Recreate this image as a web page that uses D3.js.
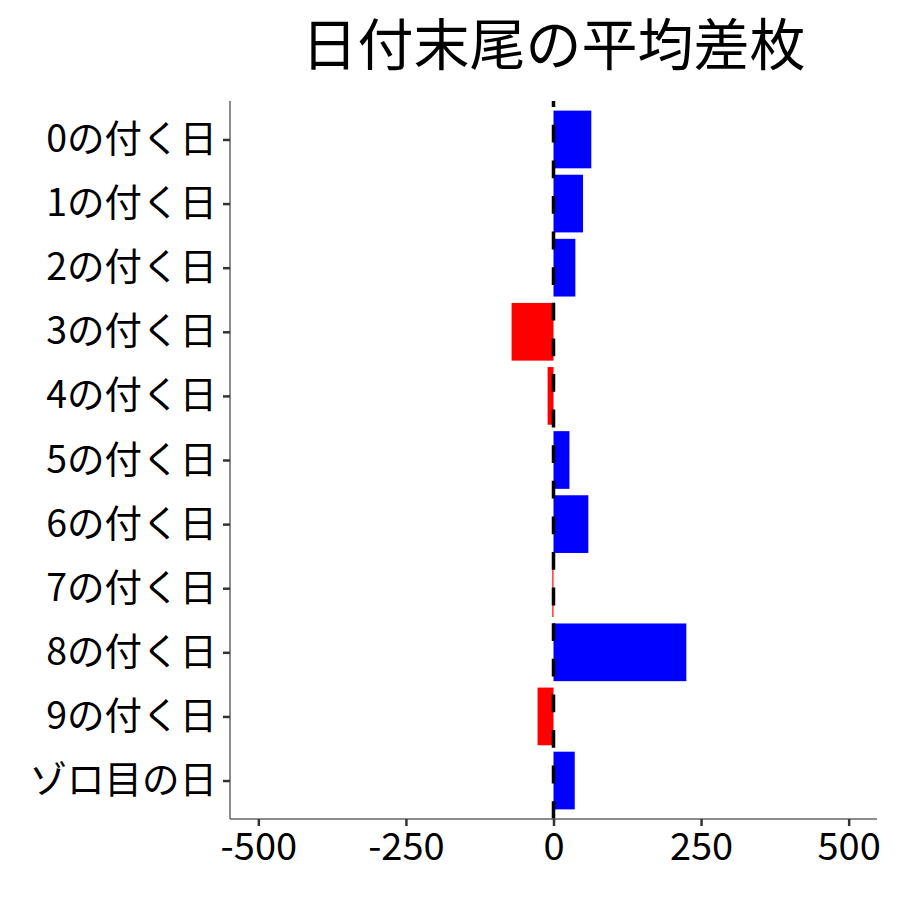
<!DOCTYPE html>
<html><head><meta charset="utf-8">
<script src="https://cdn.jsdelivr.net/npm/d3@7"></script>
<style>body{margin:0;background:#fff;} svg{display:block;} svg text{font-family:"Noto Sans CJK JP",sans-serif;}</style>
</head><body>
<script>
const categories = ["0の付く日","1の付く日","2の付く日","3の付く日","4の付く日","5の付く日","6の付く日","7の付く日","8の付く日","9の付く日","ゾロ目の日"];
const values = [64, 50, 37, -71, -10, 27, 59, -2, 225, -27, 36];
const xTicks = [-500, -250, 0, 250, 500];
const title = "日付末尾の平均差枚";

(function () {
const W = 900, H = 900;
const pL = 230, pR = 877, pT = 101, pB = 819;
const FONT = '"Noto Sans CJK JP", sans-serif';
const svg = d3.select("body").append("svg").attr("width", W).attr("height", H);

const x = d3.scaleLinear().domain([-548, 548]).range([pL, pR]);
const y = d3.scalePoint().domain(categories).range([pT, pB]).padding(0.6);
const bh = y.step() * 0.9;

svg.append("g").selectAll("rect").data(categories).join("rect")
  .attr("x", (d, i) => Math.min(x(0), x(values[i])))
  .attr("width", (d, i) => Math.abs(x(values[i]) - x(0)))
  .attr("y", d => y(d) - bh / 2)
  .attr("height", bh)
  .attr("fill", (d, i) => values[i] >= 0 ? "#0000ff" : "#ff0000");

svg.append("line")
  .attr("x1", x(0)).attr("x2", x(0)).attr("y1", pB).attr("y2", pT)
  .attr("stroke", "#000").attr("stroke-width", 3.5).attr("stroke-dasharray", "17.8 17.8");

const gx = svg.append("g").attr("transform", `translate(0,${pB})`)
  .call(d3.axisBottom(x).tickValues(xTicks).tickFormat(d3.format("d")).tickSizeOuter(0).tickSize(7).tickPadding(4));
gx.attr("font-family", FONT);
gx.select(".domain").attr("stroke", "#666").attr("stroke-width", 1.5).attr("d", `M${pL},0H${pR}`);
gx.selectAll(".tick line").attr("stroke", "#333").attr("stroke-width", 2.5);
gx.selectAll(".tick text").attr("fill", "#000").attr("font-size", 38).attr("dy", "0.8em").text(d => d < 0 ? "-" + Math.abs(d) : d);

const gy = svg.append("g").attr("transform", `translate(${pL},0)`)
  .call(d3.axisLeft(y).tickSizeOuter(0).tickSize(7).tickPadding(6));
gy.attr("font-family", FONT);
gy.select(".domain").attr("stroke", "#666").attr("stroke-width", 1.5).attr("d", `M0,${pT}V${pB}`);
gy.selectAll(".tick line").attr("stroke", "#333").attr("stroke-width", 2.5);
gy.selectAll(".tick text").attr("fill", "#000").attr("font-size", 37.5);

svg.append("text").attr("x", (pL + pR) / 2).attr("y", 65).attr("text-anchor", "middle")
  .attr("font-family", FONT).attr("font-size", 56).attr("fill", "#000").text(title);
})();
</script>
</body></html>
